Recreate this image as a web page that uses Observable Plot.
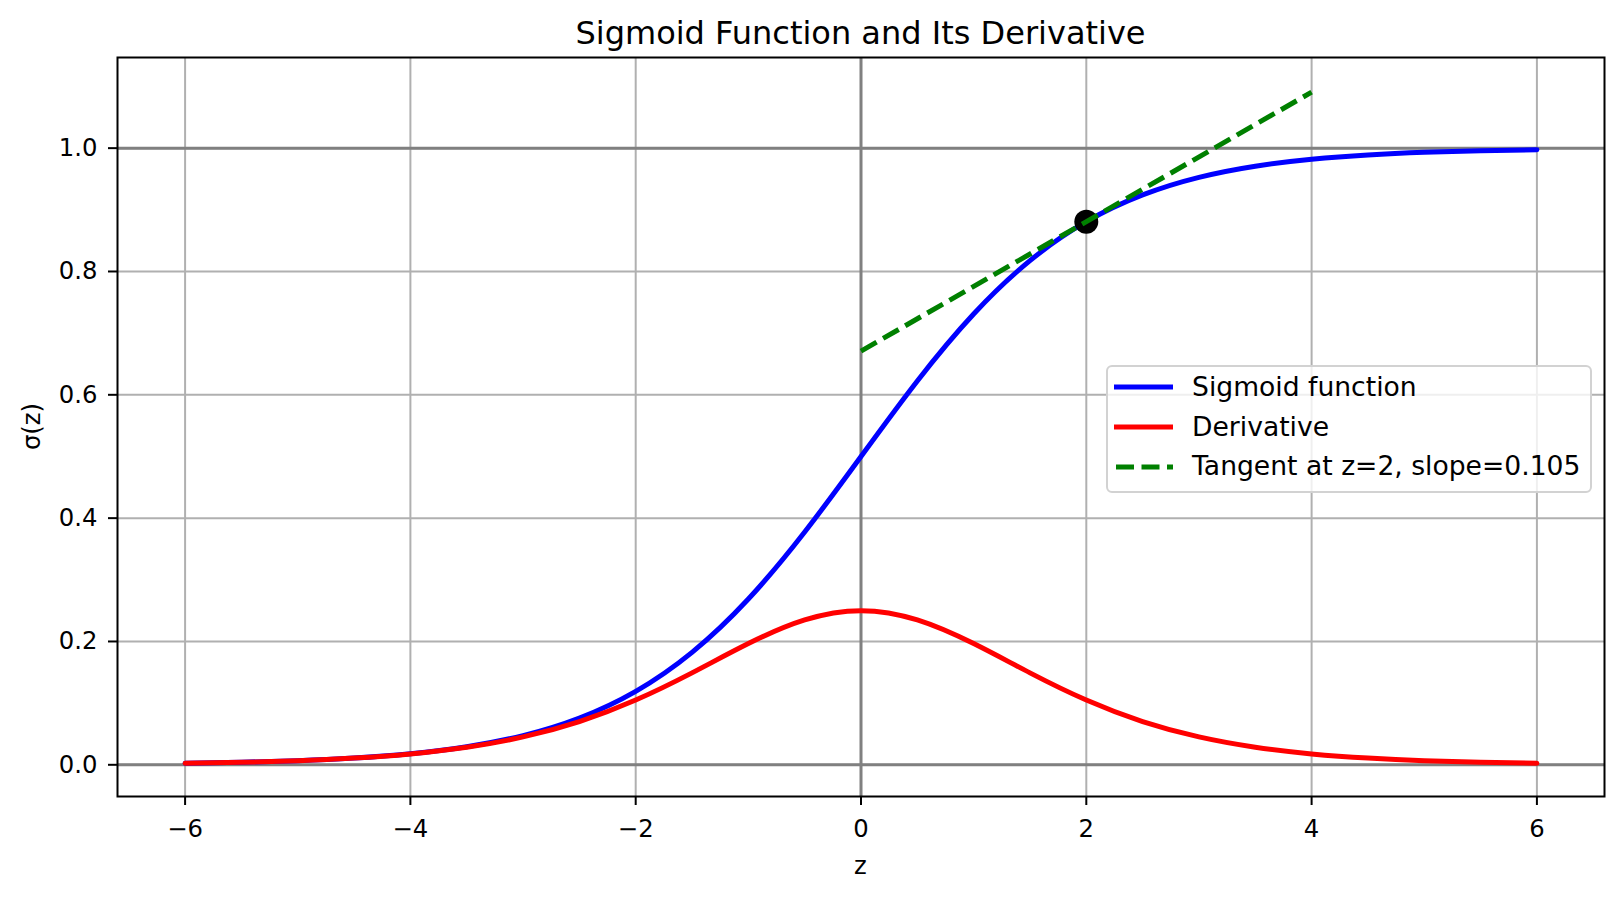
<!DOCTYPE html>
<html>
<head>
<meta charset="utf-8">
<script src="https://cdn.jsdelivr.net/npm/d3@7"></script>
<script src="https://cdn.jsdelivr.net/npm/@observablehq/plot@0.6"></script>
<style>
  body { margin: 0; background: #fff; font-family: "DejaVu Sans", sans-serif; }
  #wrap { position: relative; width: 1624px; height: 898px; overflow: hidden; }
  #title { position: absolute; left: 117px; width: 1487px; top: 17px; line-height: 1; font-size: 32px; text-align: center; color: #000; white-space: nowrap; }
  #legend { position: absolute; left: 1106px; top: 365px; width: 482px; height: 124px; border: 2px solid #d2d2d2; border-radius: 6px; background: rgba(255,255,255,0.8); }
  .row { position: absolute; left: 0; height: 40px; display: flex; align-items: center; }
  .row span { font-size: 26.6px; line-height: 1; color: #000; white-space: nowrap; position: absolute; left: 84px; }
  .row svg { position: absolute; left: 6px; }
</style>
</head>
<body>
<div id="wrap"></div>
<script>
// ---- data ----
const zValues = [-6, -5.5, -5, -4.5, -4, -3.5, -3, -2.5, -2, -1.5, -1, -0.5, 0, 0.5, 1, 1.5, 2, 2.5, 3, 3.5, 4, 4.5, 5, 5.5, 6];
const sigmoidValues = [0.0025, 0.0041, 0.0067, 0.0110, 0.0180, 0.0293, 0.0474, 0.0759, 0.1192, 0.1824, 0.2689, 0.3775, 0.5, 0.6225, 0.7311, 0.8176, 0.8808, 0.9241, 0.9526, 0.9707, 0.9820, 0.9890, 0.9933, 0.9959, 0.9975];
const derivativeValues = [0.0025, 0.0041, 0.0066, 0.0109, 0.0177, 0.0285, 0.0452, 0.0701, 0.1050, 0.1491, 0.1966, 0.2350, 0.25, 0.2350, 0.1966, 0.1491, 0.1050, 0.0701, 0.0452, 0.0285, 0.0177, 0.0109, 0.0066, 0.0041, 0.0025];
const tangentZ = [0, 4];
const tangentValues = [0.6708, 1.0908];
const pointZ = [2];
const pointValues = [0.8808];
const xTicks = [-6, -4, -2, 0, 2, 4, 6];
const yTicks = [0, 0.2, 0.4, 0.6, 0.8, 1.0];
const refLinesY = [0, 1];
const refLinesX = [0];
const seriesNames = ["Sigmoid function", "Derivative", "Tangent at z=2, slope=0.105"];
const seriesColors = ["#0000ff", "#ff0000", "#008000"];
const seriesDashed = [false, false, true];
const titleText = "Sigmoid Function and Its Derivative";
const xLabel = "z";
const yLabel = "σ(z)";

const sig = zValues.map((z, i) => ({z, v: sigmoidValues[i]}));
const der = zValues.map((z, i) => ({z, v: derivativeValues[i]}));
const tan = tangentZ.map((z, i) => ({z, v: tangentValues[i]}));
const pt = pointZ.map((z, i) => ({z, v: pointValues[i]}));

const W = 1624, H = 898, ML = 117, MR = 20, MT = 57, MB = 102;
const FS = 24.3;

const chart = Plot.plot({
  width: W, height: H,
  marginLeft: ML, marginRight: MR, marginTop: MT, marginBottom: MB,
  x: {domain: [-6.6, 6.6]},
  y: {domain: [-0.0514, 1.147]},
  style: {fontFamily: "DejaVu Sans", fontSize: FS + "px", color: "black", background: "white", overflow: "visible"},
  marks: [
    Plot.gridX(xTicks, {stroke: "#b0b0b0", strokeOpacity: 1, strokeWidth: 2}),
    Plot.gridY(yTicks, {stroke: "#b0b0b0", strokeOpacity: 1, strokeWidth: 2}),
    Plot.ruleY(refLinesY, {stroke: "#808080", strokeWidth: 3}),
    Plot.ruleX(refLinesX, {stroke: "#808080", strokeWidth: 3}),
    Plot.line(sig, {x: "z", y: "v", stroke: seriesColors[0], strokeWidth: 5, curve: "natural"}),
    Plot.line(der, {x: "z", y: "v", stroke: seriesColors[1], strokeWidth: 5, curve: "natural"}),
    Plot.dot(pt, {x: "z", y: "v", r: 12, fill: "black", stroke: "none"}),
    Plot.line(tan, {x: "z", y: "v", stroke: seriesColors[2], strokeWidth: 5, strokeDasharray: "18,7.5", strokeLinecap: "butt"}),
    Plot.frame({stroke: "black", strokeWidth: 2}),
    Plot.axisX({ticks: xTicks, tickSize: 9, tickPadding: 14.5, label: null, strokeWidth: 2}),
    Plot.axisY({ticks: yTicks, tickSize: 9, tickPadding: 11, label: null, strokeWidth: 2, tickFormat: d3.format(".1f")})
  ]
});

const wrap = document.getElementById("wrap");
wrap.appendChild(chart);

// axis labels
const svg = d3.select(chart);
svg.append("text")
  .attr("x", (ML + W - MR) / 2).attr("y", 874)
  .attr("text-anchor", "middle").attr("font-size", FS).attr("fill", "black")
  .text(xLabel);
svg.append("text")
  .attr("transform", `translate(31,${(MT + H - MB) / 2}) rotate(-90)`)
  .attr("dy", "0.35em")
  .attr("text-anchor", "middle").attr("font-size", FS).attr("fill", "black")
  .text(yLabel);

// title
const title = document.createElement("div");
title.id = "title";
title.textContent = titleText;
wrap.appendChild(title);

// legend
const legend = d3.select(wrap).append("div").attr("id", "legend");
const rowTops = [0, 40, 79.5];
seriesNames.forEach((name, i) => {
  const row = legend.append("div").attr("class", "row").style("top", rowTops[i] + "px");
  const s = row.append("svg").attr("width", 60).attr("height", 10).style("top", "15px");
  s.append("line").attr("x1", 0).attr("x2", 59).attr("y1", 5).attr("y2", 5)
    .attr("stroke", seriesColors[i]).attr("stroke-width", 5)
    .attr("stroke-dasharray", seriesDashed[i] ? "18,7.5" : null)
    .attr("stroke-dashoffset", seriesDashed[i] ? -2 : null);
  row.append("span").style("top", "6.5px").text(name);
});
</script>
</body>
</html>
